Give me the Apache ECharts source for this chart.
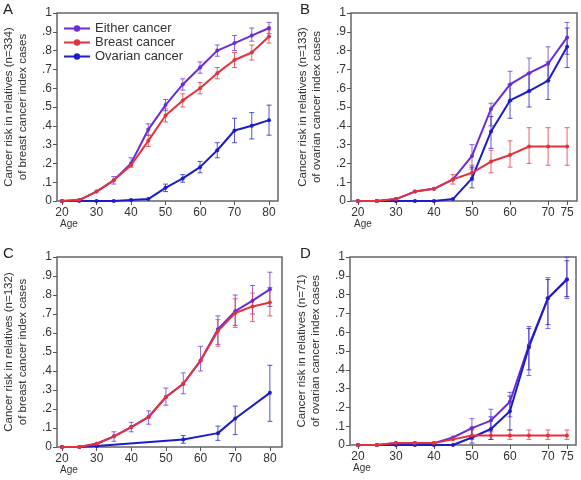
<!DOCTYPE html>
<html><head><meta charset="utf-8">
<script src="https://cdn.jsdelivr.net/npm/echarts@6/dist/echarts.min.js"></script>
<style>html,body{margin:0;padding:0;background:#fff}#c{width:581px;height:480px}</style>
</head><body><div id="c"></div>
<script>
// ---- data ----
const agesA = [20,25,30,35,40,45,50,55,60,65,70,75,80];
const eitherA = [0,0.005,0.05,0.11,0.20,0.38,0.51,0.62,0.71,0.80,0.84,0.88,0.92];
const eitherA_lo = [null,null,null,0.09,0.18,0.35,0.48,0.59,0.68,0.77,0.80,0.85,0.89];
const eitherA_hi = [null,null,null,0.13,0.23,0.41,0.54,0.65,0.74,0.83,0.88,0.92,0.95];
const breastA = [0,0.005,0.05,0.11,0.19,0.32,0.455,0.535,0.60,0.68,0.75,0.79,0.875];
const breastA_lo = [null,null,null,null,null,0.29,0.42,0.50,0.57,0.65,0.71,0.75,0.84];
const breastA_hi = [null,null,null,null,null,0.35,0.49,0.57,0.63,0.71,0.79,0.83,0.91];
const ovarianA = [0,0,0,0,0.005,0.01,0.07,0.12,0.18,0.27,0.375,0.40,0.43];
const ovarianA_lo = [null,null,null,null,null,null,0.05,0.10,0.15,0.23,0.31,0.33,0.35];
const ovarianA_hi = [null,null,null,null,null,null,0.09,0.14,0.21,0.31,0.44,0.47,0.51];

const agesB = [20,25,30,35,40,45,50,55,60,65,70,75];
const eitherB = [0,0,0.01,0.05,0.065,0.115,0.24,0.49,0.62,0.68,0.73,0.87];
const eitherB_lo = [null,null,null,null,null,null,0.17,0.40,0.53,0.58,0.64,0.78];
const eitherB_hi = [null,null,null,null,null,null,0.30,0.52,0.69,0.76,0.82,0.95];
const breastB = [0,0,0.01,0.05,0.065,0.115,0.15,0.21,0.245,0.29,0.29,0.29];
const breastB_lo = [null,null,null,null,null,0.09,0.11,0.15,0.18,0.20,0.19,0.19];
const breastB_hi = [null,null,null,null,null,0.14,0.19,0.27,0.32,0.39,0.39,0.39];
const ovarianB = [0,0,0,0,0,0.01,0.12,0.37,0.535,0.585,0.64,0.82];
const ovarianB_lo = [null,null,null,null,null,null,0.07,0.28,0.44,0.50,0.54,0.71];
const ovarianB_hi = [null,null,null,null,null,null,0.18,0.45,0.62,0.68,0.74,0.92];

const agesC = [20,25,30,35,40,45,50,55,60,65,70,75,80];
const eitherC = [0,0,0.017,0.056,0.105,0.158,0.263,0.333,0.455,0.62,0.715,0.77,0.83];
const eitherC_lo = [null,null,null,0.03,0.08,0.12,0.22,0.28,0.40,0.54,0.64,0.70,0.74];
const eitherC_hi = [null,null,null,0.08,0.13,0.19,0.31,0.39,0.53,0.69,0.80,0.85,0.92];
const breastC = [0,0,0.017,0.056,0.105,0.158,0.263,0.333,0.455,0.61,0.705,0.74,0.76];
const breastC_lo = [null,null,null,null,null,null,null,null,null,0.53,0.63,0.66,0.69];
const breastC_hi = [null,null,null,null,null,null,null,null,null,0.67,0.78,0.81,0.84];
const ovarianC = [0,0,0.005,null,null,null,null,0.04,null,0.073,0.15,null,0.285];
const ovarianC_lo = [null,null,null,null,null,null,null,0.02,null,0.035,0.065,null,0.135];
const ovarianC_hi = [null,null,null,null,null,null,null,0.06,null,0.11,0.215,null,0.43];

const agesD = [20,25,30,35,40,45,50,55,60,65,70,75];
const eitherD = [0,0,0.01,0.01,0.01,0.04,0.09,0.13,0.23,0.53,0.78,0.88];
const eitherD_lo = [null,null,null,null,null,null,0.04,0.07,0.15,0.37,0.62,0.78];
const eitherD_hi = [null,null,null,null,null,null,0.14,0.19,0.28,0.63,0.89,1.0];
const breastD = [0,0,0.01,0.01,0.01,0.03,0.05,0.05,0.05,0.05,0.05,0.05];
const breastD_lo = [null,null,null,null,null,null,0.03,0.03,0.03,0.03,0.03,0.03];
const breastD_hi = [null,null,null,null,null,null,0.08,0.08,0.08,0.08,0.08,0.08];
const ovarianD = [0,0,0,0,0,0,0.04,0.085,0.18,0.52,0.78,0.88];
const ovarianD_lo = [null,null,null,null,null,null,0.01,0.03,0.08,0.40,0.64,0.79];
const ovarianD_hi = [null,null,null,null,null,null,0.09,0.15,0.26,0.62,0.88,0.98];

const ticksAC = [20,30,40,50,60,70,80];
const ticksBD = [20,30,40,50,60,70,75];
const yTicks = [0,0.1,0.2,0.3,0.4,0.5,0.6,0.7,0.8,0.9,1];
const yLabels = ['0','.1','.2','.3','.4','.5','.6','.7','.8','.9','1'];
const seriesNames = ['Either cancer','Breast cancer','Ovarian cancer'];
const panelLetters = ['A','B','C','D'];
const yTitles = [
  'Cancer risk in relatives (n=334)\nof breast cancer index cases',
  'Cancer risk in relatives (n=133)\nof ovarian cancer index cases',
  'Cancer risk in relatives (n=132)\nof breast cancer index cases',
  'Cancer risk in relatives (n=71)\nof ovarian cancer index cases'
];

// ---- layout/style ----
const FONT = 'Liberation Sans, Arial, sans-serif';
const colors = ['#6a2cd6', '#e3323c', '#1c1cc8'];
const grids = [
  {left:57, top:13, width:221, height:188},
  {left:351, top:13, width:226, height:188},
  {left:57, top:257, width:225, height:190},
  {left:350, top:257, width:226, height:188}
];
const xRanges = [[18.55,82.6],[18.2,77.6],[18.55,83.5],[17.9,77.4]];
const panels = [
  {ages:agesA, ticks:ticksAC, d:[[eitherA,eitherA_lo,eitherA_hi],[breastA,breastA_lo,breastA_hi],[ovarianA,ovarianA_lo,ovarianA_hi]]},
  {ages:agesB, ticks:ticksBD, d:[[eitherB,eitherB_lo,eitherB_hi],[breastB,breastB_lo,breastB_hi],[ovarianB,ovarianB_lo,ovarianB_hi]]},
  {ages:agesC, ticks:ticksAC, d:[[eitherC,eitherC_lo,eitherC_hi],[breastC,breastC_lo,breastC_hi],[ovarianC,ovarianC_lo,ovarianC_hi]]},
  {ages:agesD, ticks:ticksBD, d:[[eitherD,eitherD_lo,eitherD_hi],[breastD,breastD_lo,breastD_hi],[ovarianD,ovarianD_lo,ovarianD_hi]]}
];

const gridOpt = [], xAxis = [], yAxis = [], series = [], graphic = [];
panels.forEach((p, i) => {
  gridOpt.push(Object.assign({show:true, borderColor:'#666', borderWidth:1.5, backgroundColor:'#fff'}, grids[i]));
  xAxis.push({
    type:'value', gridIndex:i, min:xRanges[i][0], max:xRanges[i][1],
    axisLine:{show:false}, splitLine:{show:false},
    axisTick:{show:true, inside:false, length:4, customValues:p.ticks, lineStyle:{color:'#555'}},
    axisLabel:{customValues:p.ticks, color:'#333', fontSize:12, fontFamily:FONT, margin:6}
  });
  yAxis.push({
    type:'value', gridIndex:i, min:0, max:1,
    axisLine:{show:false}, splitLine:{show:false},
    axisTick:{show:true, length:4, customValues:yTicks, lineStyle:{color:'#555'}},
    axisLabel:{customValues:yTicks, color:'#333', fontSize:12, fontFamily:FONT, margin:5,
      formatter: v => yLabels[yTicks.findIndex(t => Math.abs(t - v) < 1e-6)]},
    name: yTitles[i], nameLocation:'middle', nameGap:27, nameRotate:90,
    nameTextStyle:{color:'#333', fontSize:11.5, fontFamily:FONT, lineHeight:14}
  });
  p.d.forEach((s, k) => {
    const [vals, lo, hi] = s;
    const errData = [];
    p.ages.forEach((a, j) => { if (lo[j] != null && hi[j] != null) errData.push([a, lo[j], hi[j]]); });
    series.push({
      type:'custom', xAxisIndex:i, yAxisIndex:i, silent:true, z:1,
      data: errData,
      encode:{x:0, y:[1,2]},
      renderItem: (params, api) => {
        const x = api.value(0);
        const pl = api.coord([x, api.value(1)]);
        const ph = api.coord([x, api.value(2)]);
        const cw = 2.5;
        const st = {stroke: colors[k], lineWidth:1, opacity:0.75};
        return {type:'group', children:[
          {type:'line', shape:{x1:pl[0], y1:pl[1], x2:ph[0], y2:ph[1]}, style:st},
          {type:'line', shape:{x1:pl[0]-cw, y1:pl[1], x2:pl[0]+cw, y2:pl[1]}, style:st},
          {type:'line', shape:{x1:ph[0]-cw, y1:ph[1], x2:ph[0]+cw, y2:ph[1]}, style:st}
        ]};
      }
    });
    series.push({
      name: seriesNames[k], type:'line', xAxisIndex:i, yAxisIndex:i, z:2 + (k===1?1:0),
      data: p.ages.map((a, j) => [a, vals[j]]),
      connectNulls:true, symbol:'circle', symbolSize:4, showSymbol:true,
      lineStyle:{color:colors[k], width:2}, itemStyle:{color:colors[k]},
      animation:false
    });
  });
  graphic.push({type:'text', left: i%2===0 ? 3 : 300, top: i<2 ? 2 : 246,
    style:{text:panelLetters[i], fontSize:15, fontFamily:FONT, fill:'#222'}});
  graphic.push({type:'text', left: grids[i].left + 3, top: grids[i].top + grids[i].height + 18,
    style:{text:'Age', fontSize:10, fontFamily:FONT, fill:'#333'}});
});

const chart = echarts.init(document.getElementById('c'), null, {renderer:'canvas'});
chart.setOption({
  animation:false,
  backgroundColor:'#fff',
  grid: gridOpt, xAxis, yAxis, series, graphic,
  legend: {
    data: seriesNames, orient:'vertical', left:58, top:17, itemGap:1,
    itemWidth:26, itemHeight:8,
    textStyle:{fontSize:13, fontFamily:FONT, color:'#333'},
    backgroundColor:'transparent'
  }
});
</script></body></html>
